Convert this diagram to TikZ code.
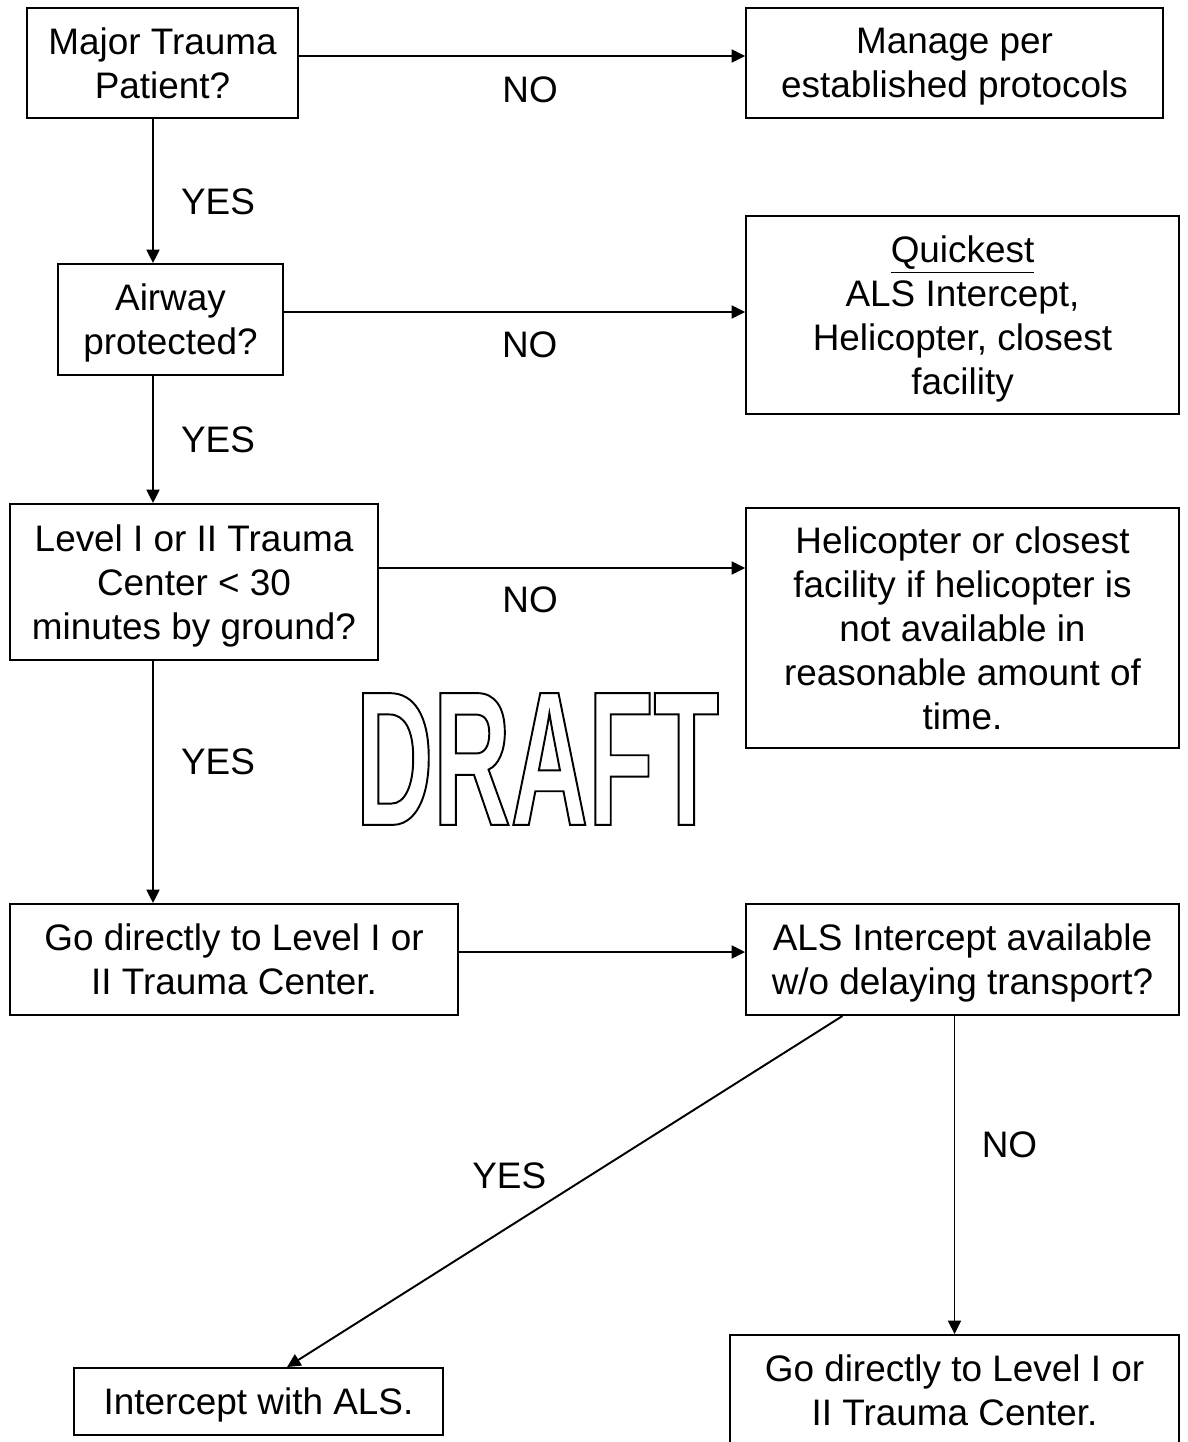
\documentclass[tikz,border=0pt]{standalone}
\usepackage{fontspec}
\setmainfont{Liberation Sans}
\newfontfamily\draftfont[FakeStretch=0.56]{Liberation Sans}
\newcommand\hollow[1]{\special{pdf:literal direct 1.1 w 1 Tr}#1\special{pdf:literal direct 0 Tr}}
\usetikzlibrary{arrows.meta, calc}

\begin{document}
\begin{tikzpicture}[x=0.02cm, y=-0.02cm,
    box/.style={draw, line width=1.1pt, align=center, inner sep=2pt, text depth=0pt,
                font=\fontsize{21}{25}\selectfont},
    flow/.style={-{Triangle[length=0.27cm,width=0.26cm]}, line width=1.1pt},
    tag/.style={font=\fontsize{21}{25}\selectfont}]

  \clip (0,0) rectangle (1187,1442);

  \node[box, minimum width=5.42cm, minimum height=2.2cm]  (major)   at (162.5,63)    {Major Trauma\\Patient?};
  \node[box, minimum width=8.34cm, minimum height=2.2cm]  (manage)  at (954.5,63)    {Manage per\\established protocols};
  \node[box, minimum width=4.5cm,  minimum height=2.22cm] (airway)  at (170.5,319.5) {Airway\\protected?};
  \node[box, minimum width=8.66cm, minimum height=3.96cm] (quick)   at (962.5,315)   {\underline{Quickest}\\ALS Intercept,\\Helicopter, closest\\facility};
  \node[box, minimum width=7.36cm, minimum height=3.12cm] (level)   at (194,582)     {Level I or II Trauma\\Center < 30\\minutes by ground?};
  \node[box, minimum width=8.66cm, minimum height=4.8cm]  (heli)    at (962.5,628)   {Helicopter or closest\\facility if helicopter is\\not available in\\reasonable amount of\\time.};
  \node[box, minimum width=8.96cm, minimum height=2.22cm] (direct)  at (234,959.5)   {Go directly to Level I or\\II Trauma Center.};
  \node[box, minimum width=8.66cm, minimum height=2.22cm] (als)     at (962.5,959.5) {ALS Intercept available\\w/o delaying transport?};
  \node[box, minimum width=7.38cm, minimum height=1.34cm] (meet)    at (258.5,1401.5){Intercept with ALS.};
  \node[box, minimum width=8.98cm, minimum height=2.22cm] (direct2) at (954.5,1390.5){Go directly to Level I or\\II Trauma Center.};

  \node[inner sep=0] (draft) at (537.5,759)
    {\draftfont\bfseries\fontsize{109}{109}\selectfont\hollow{DRAFT}};

  \coordinate (spine) at (153,0);

  \draw[flow] ([yshift=0.14cm]major.east) -- ([yshift=0.14cm]major.east -| manage.west)
        node[tag, pos=0.518, yshift=-0.68cm] {NO};
  \draw[flow] ([yshift=0.15cm]airway.east) -- ([yshift=0.15cm]airway.east -| quick.west)
        node[tag, pos=0.533, yshift=-0.66cm] {NO};
  \draw[flow] ([yshift=0.28cm]level.east) -- ([yshift=0.28cm]level.east -| heli.west)
        node[tag, pos=0.413, yshift=-0.64cm] {NO};
  \draw[flow] ([yshift=0.15cm]direct.east) -- ([yshift=0.15cm]direct.east -| als.west);

  \draw[flow] (major.south -| spine) -- (airway.north -| spine)
        node[tag, pos=0.575, xshift=1.3cm] {YES};
  \draw[flow] (airway.south -| spine) -- (level.north -| spine)
        node[tag, pos=0.5, xshift=1.3cm] {YES};
  \draw[flow] (level.south -| spine) -- (direct.north -| spine)
        node[tag, pos=0.418, xshift=1.3cm] {YES};

  \draw[flow] ($(als.south west)!0.224!(als.south east)$) -- ($(meet.north west)!0.577!(meet.north east)$)
        node[tag, pos=0.6, yshift=1.02cm] {YES};
  \draw[flow] (als.south -| direct2.north) -- (direct2.north)
        node[tag, pos=0.406, xshift=1.1cm] {NO};
\end{tikzpicture}
\end{document}
